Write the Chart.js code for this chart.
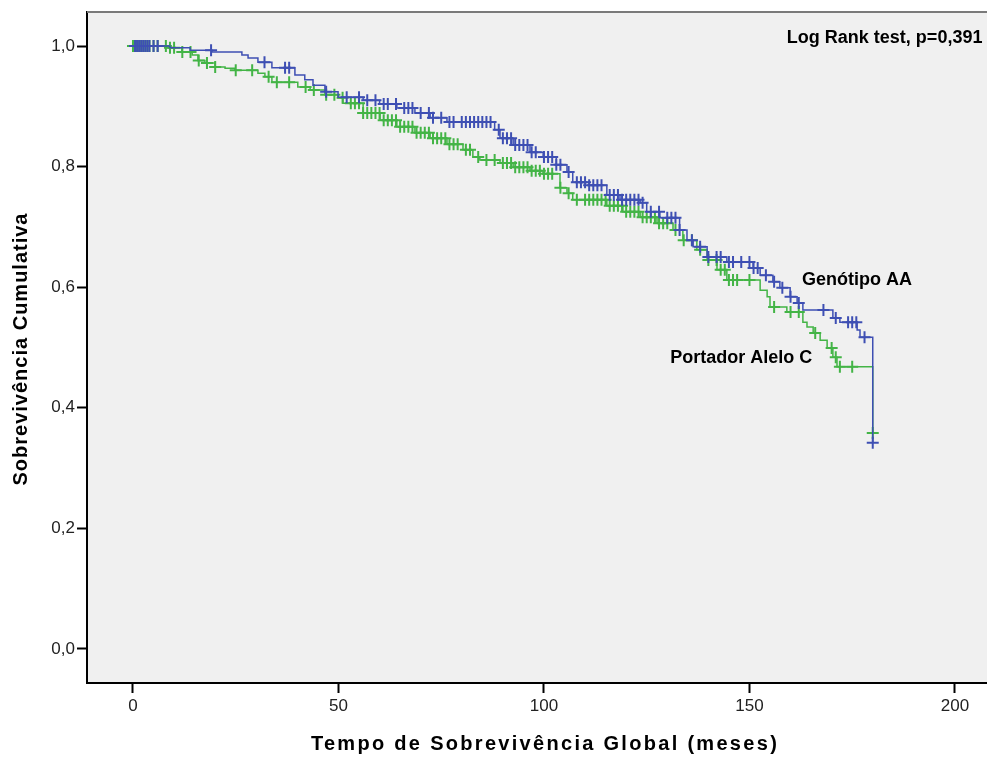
<!DOCTYPE html>
<html><head><meta charset="utf-8">
<script src="https://cdn.jsdelivr.net/npm/chart.js@4.4.1/dist/chart.umd.min.js"></script>
<style>html,body{margin:0;padding:0;background:#fff}</style>
</head><body>
<canvas id="c" width="987" height="757"></canvas>
<script>
// ---- Data ----
// Genótipo AA: event times (months) and survival after each step
const aaTimes = [0,9,13.9,19.2,26.5,28,30.4,33.8,39.4,41.8,43.8,46.7,49.9,56,60,64.2,68.6,72.3,76.4,88,89.3,92.5,96.6,99.8,103,105.6,107,111,115.3,118.5,123.4,125,128.2,133,134.8,136.3,139.7,144.5,150.9,152.6,155.7,157.4,159.9,161.6,163,170.3,172,176.2,176.9,180];
const aaSurv  = [1.0,0.997,0.993,0.990,0.985,0.980,0.973,0.964,0.952,0.944,0.935,0.924,0.915,0.910,0.904,0.897,0.889,0.881,0.874,0.861,0.847,0.836,0.824,0.816,0.803,0.791,0.774,0.769,0.753,0.745,0.740,0.725,0.715,0.695,0.678,0.667,0.650,0.642,0.632,0.620,0.609,0.599,0.584,0.574,0.562,0.549,0.542,0.529,0.517,0.342];
const aaCensored = [0.5,1,1.5,2,2.5,3,3.5,4,5,6,19,32,37,38,47,52,55,57,59,61,62,64,66,67,68,70,72,73,75,77,78,80,81,82,83,84,85,86,87,89,90,91,92,93,94,95,96,97,98,100,101,102,103,104,106,108,109,110,111,112,113,114,116,117,118,119,120,121,122,123,124,126,128,130,131,132,133,136,138,140,142,143,145,146,148,150,151,152,154,156,158,160,162,168,171,174,175,176,178,180];

// Portador Alelo C
const cTimes = [0,8.5,11.9,14.4,15.8,17.5,20,22.4,24.8,30.4,32.1,33.8,40.1,43.1,46.7,49.9,51.1,56,60.1,64.2,68.6,72.3,76.4,80.3,82.7,84.4,89.3,92.5,96.6,99.8,103.9,105.6,107,115.3,119.2,123.4,127.5,131.4,133.8,137.2,139.7,142.1,144.5,152.6,154.3,155,159.1,163,164,165.5,167.2,168.9,170.3,171.3,180];
const cSurv  = [1.0,0.997,0.990,0.985,0.976,0.972,0.965,0.963,0.960,0.955,0.949,0.940,0.932,0.927,0.919,0.914,0.905,0.889,0.877,0.866,0.856,0.847,0.837,0.828,0.816,0.811,0.806,0.799,0.793,0.788,0.765,0.756,0.745,0.735,0.725,0.716,0.706,0.695,0.678,0.662,0.645,0.629,0.612,0.595,0.584,0.567,0.559,0.542,0.534,0.524,0.512,0.499,0.484,0.468,0.358];
const cCensored = [0,0.5,1,1.5,2,2.5,3,3.5,4,5,6,8,9,10,12,14,16,18,20,25,29,33,35,38,42,44,47,49,51,53,54,55,56,57,58,59,60,61,62,63,64,65,66,67,68,69,70,71,72,73,74,75,76,77,78,79,81,82,84,86,88,90,91,92,93,94,95,96,97,98,99,100,101,102,104,106,108,110,111,112,113,114,115,116,117,118,119,120,121,122,123,124,125,126,127,128,129,130,132,134,136,138,140,142,143,144,145,146,147,150,156,160,162,166,170,171,172,175,180];

const xTicks = [0,50,100,150,200];
const xTickLabels = ['0','50','100','150','200'];
const yTicks = [0,0.2,0.4,0.6,0.8,1.0];
const yTickLabels = ['0,0','0,2','0,4','0,6','0,8','1,0'];

const seriesNames = ['Genótipo AA','Portador Alelo C'];
const xTitle = 'Tempo de Sobrevivência Global (meses)';
const yTitle = 'Sobrevivência Cumulativa';
const testLabel = 'Log Rank test, p=0,391';

// ---- helpers ----
function curve(times, surv){ return times.map((t,i)=>({x:t,y:surv[i]})); }
function stepAt(times, surv, t){
  let v = surv[0];
  for(let i=0;i<times.length;i++){ if(times[i]<=t) v=surv[i]; else break; }
  return v;
}
function censorPts(cens, times, surv){ return cens.map(t=>({x:t,y:stepAt(times,surv,t)})); }

const BLUE = '#3e4fb3';
const GREEN = '#43b446';
const FONT = '"Liberation Sans", Arial, sans-serif';

const bgPlugin = {
  id:'bg',
  beforeDraw(chart){
    const {ctx, chartArea:a} = chart;
    ctx.save();
    ctx.fillStyle='#fff'; ctx.fillRect(0,0,chart.width,chart.height);
    ctx.fillStyle='#f0f0f0'; ctx.fillRect(a.left,a.top,a.right-a.left,a.bottom-a.top);
    ctx.restore();
  },
  afterDraw(chart){
    const {ctx, chartArea:a, scales} = chart;
    ctx.save();
    ctx.strokeStyle='#7a7a7a'; ctx.lineWidth=2;
    ctx.beginPath(); ctx.moveTo(a.left,a.top); ctx.lineTo(a.right,a.top); ctx.stroke();
    ctx.fillStyle='#000';
    ctx.font='bold 18px '+FONT;
    ctx.textBaseline='alphabetic'; ctx.textAlign='left';
    const sx=scales.x, sy=scales.y;
    ctx.fillText(testLabel, sx.getPixelForValue(159.1), sy.getPixelForValue(1.005));
    ctx.fillText(seriesNames[0], sx.getPixelForValue(162.8), sy.getPixelForValue(0.604));
    ctx.fillText(seriesNames[1], sx.getPixelForValue(130.7), sy.getPixelForValue(0.474));
    ctx.font='bold 20px '+FONT;
    ctx.textAlign='center';
    try{ ctx.letterSpacing='2.3px'; }catch(e){}
    ctx.fillText(xTitle, (a.left+a.right)/2 + 8, 750);
    ctx.translate(27, 349); ctx.rotate(-Math.PI/2);
    try{ ctx.letterSpacing='1px'; }catch(e){}
    ctx.fillText(yTitle, 0, 0);
    ctx.restore();
  }
};

const crossStyle = (c)=>({type:'scatter', showLine:false, pointStyle:'cross', pointRadius:6, pointBorderWidth:2, pointBorderColor:c, pointBackgroundColor:c, borderColor:c});

new Chart(document.getElementById('c'), {
  type:'scatter',
  data:{ datasets:[
    {label:seriesNames[0]+' censor', data:censorPts(aaCensored,aaTimes,aaSurv), ...crossStyle(BLUE)},
    {label:seriesNames[0], data:curve(aaTimes,aaSurv), showLine:true, stepped:'before', borderColor:BLUE, borderWidth:1.5, pointRadius:0},
    {label:seriesNames[1]+' censor', data:censorPts(cCensored,cTimes,cSurv), ...crossStyle(GREEN)},
    {label:seriesNames[1], data:curve(cTimes,cSurv), showLine:true, stepped:'before', borderColor:GREEN, borderWidth:1.5, pointRadius:0},
  ]},
  options:{
    responsive:false, animation:false, devicePixelRatio:1,
    layout:{autoPadding:false, padding:{top:12,right:0,bottom:0,left:0}},
    plugins:{legend:{display:false}, tooltip:{enabled:false}, title:{display:false}},
    scales:{
      x:{ type:'linear', min:-11.19, max:207.8,
          afterFit(s){ s.height=74; s.paddingLeft=0; s.paddingRight=0; },
          afterBuildTicks(s){ s.ticks = xTicks.map(v=>({value:v})); },
          ticks:{ callback:(v)=>{const i=xTicks.indexOf(v); return i>=0?xTickLabels[i]:'';}, color:'#222', font:{family:FONT, size:17}, padding:3, maxRotation:0, autoSkip:false },
          grid:{ drawOnChartArea:false, drawTicks:true, tickLength:10, color:'#000', tickWidth:2 },
          border:{ display:true, color:'#000', width:2 } },
      y:{ type:'linear', min:-0.0564, max:1.0564,
          afterFit(s){ s.width=87; s.paddingTop=0; s.paddingBottom=0; },
          afterBuildTicks(s){ s.ticks = yTicks.map(v=>({value:v})); },
          ticks:{ callback:(v)=>{const i=yTicks.findIndex(t=>Math.abs(t-v)<1e-6); return i>=0?yTickLabels[i]:'';}, color:'#222', font:{family:FONT, size:17}, padding:2, autoSkip:false },
          grid:{ drawOnChartArea:false, drawTicks:true, tickLength:10, color:'#000', tickWidth:2 },
          border:{ display:true, color:'#000', width:2 } }
    }
  },
  plugins:[bgPlugin]
});
</script>
</body></html>
